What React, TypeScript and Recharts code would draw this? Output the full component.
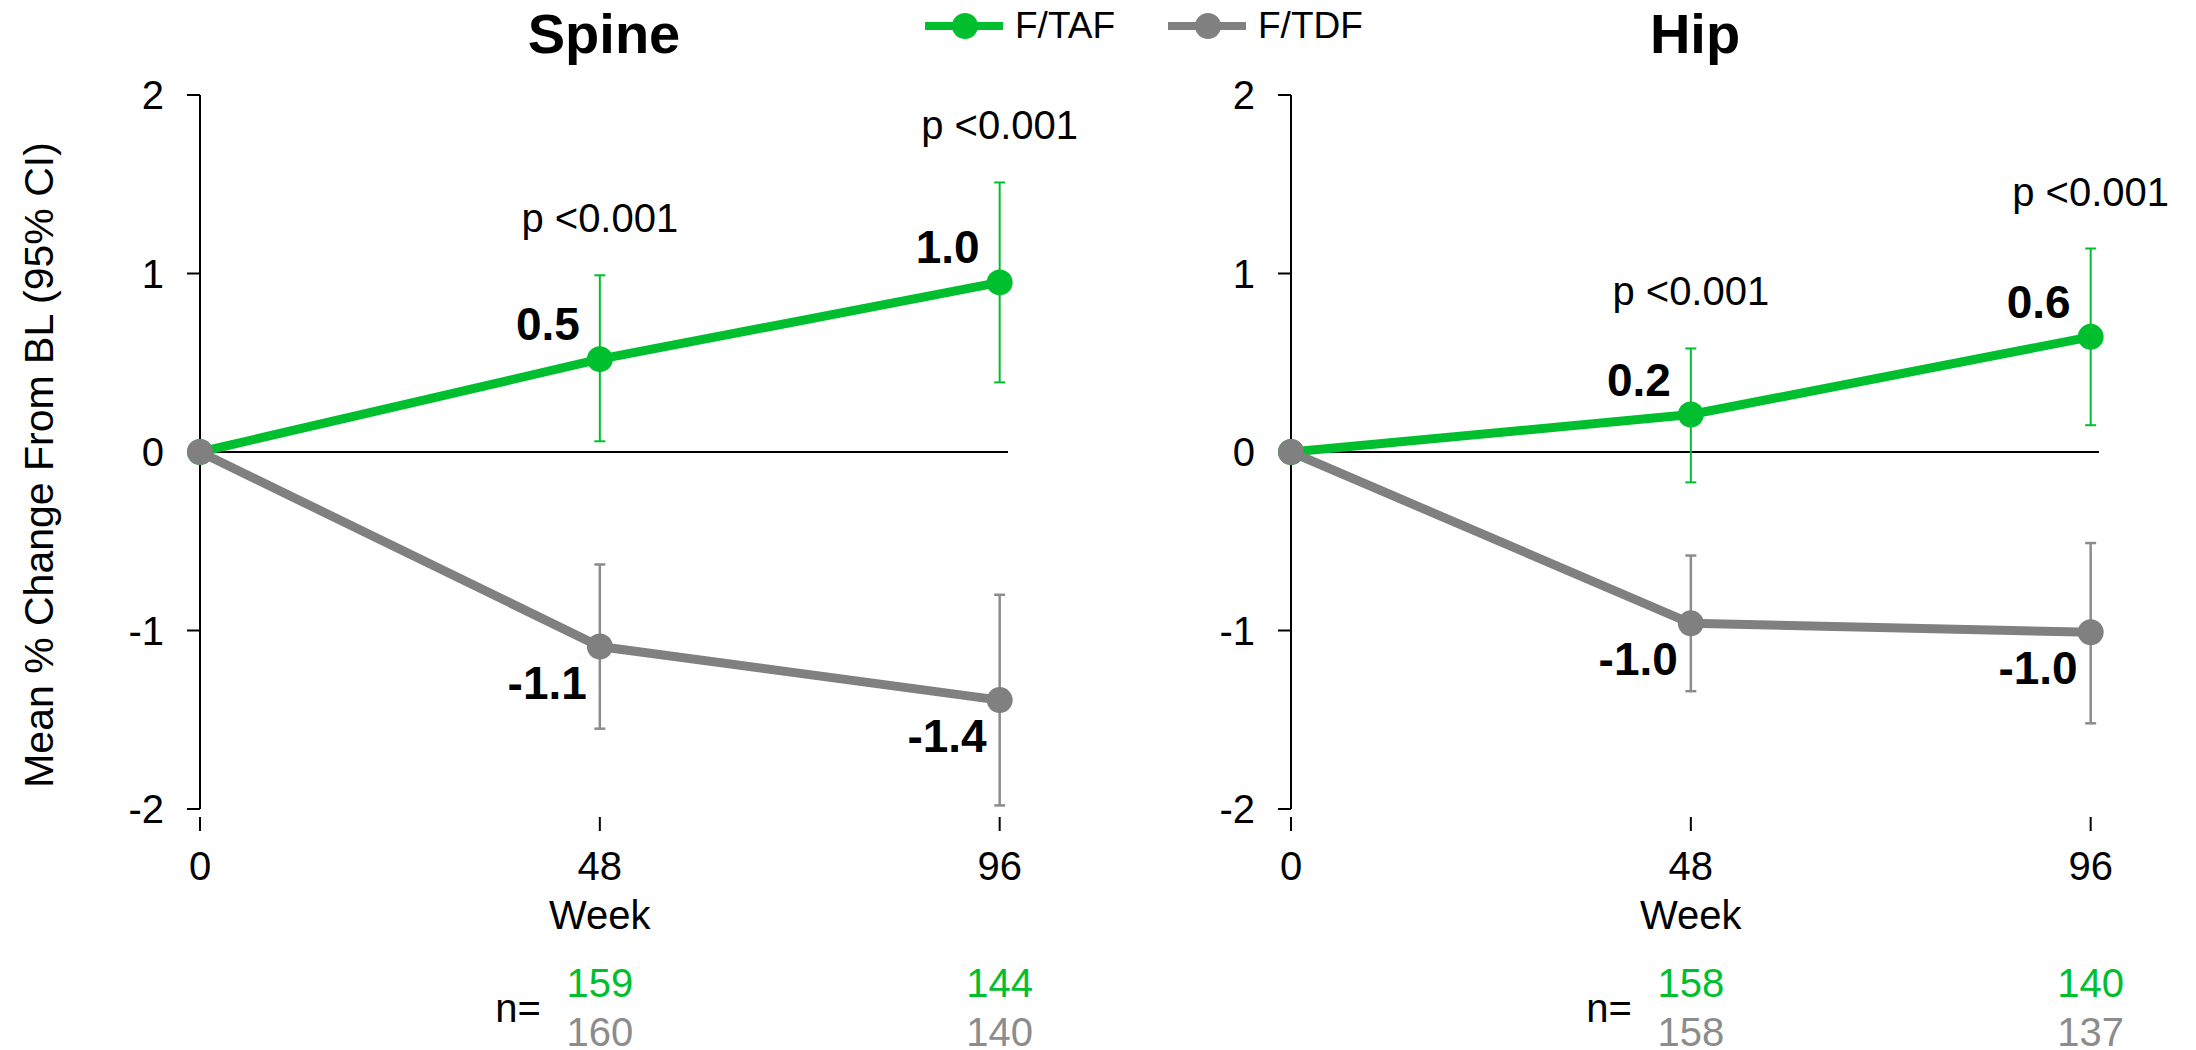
import { LineChart, Line, XAxis, YAxis, ErrorBar, LabelList, ReferenceLine, Legend, Label } from "recharts";

const FONT = "'Liberation Sans', Arial, sans-serif";
const GREEN = "#00BF2F";
const GREY = "#808080";
const GREY_BAR = "#8C8C8C";

const weeks = [0, 48, 96];
const xTicks = [0, 48, 96];
const yTicks = [-2, -1, 0, 1, 2];

// spine, mean % change and 95% CI
const spineTaf = [0, 0.52, 0.95];
const spineTafLow = [0, 0.06, 0.39];
const spineTafHigh = [0, 0.99, 1.51];
const spineTdf = [0, -1.09, -1.39];
const spineTdfLow = [0, -1.55, -1.98];
const spineTdfHigh = [0, -0.63, -0.8];

// hip
const hipTaf = [0, 0.21, 0.645];
const hipTafLow = [0, -0.17, 0.15];
const hipTafHigh = [0, 0.58, 1.14];
const hipTdf = [0, -0.96, -1.01];
const hipTdfLow = [0, -1.34, -1.52];
const hipTdfHigh = [0, -0.58, -0.51];

const spineTafText = ["", "0.5", "1.0"];
const spineTdfText = ["", "-1.1", "-1.4"];
const hipTafText = ["", "0.2", "0.6"];
const hipTdfText = ["", "-1.0", "-1.0"];
const pText = ["", "p <0.001", "p <0.001"];

const spineNTaf = ["", "159", "144"];
const spineNTdf = ["", "160", "140"];
const hipNTaf = ["", "158", "140"];
const hipNTdf = ["", "158", "137"];

const buildRows = (taf, tafLow, tafHigh, tdf, tdfLow, tdfHigh, tafText, tdfText) =>
	weeks.map((week, i) => ({
		week,
		taf: taf[i],
		tafErr: [taf[i] - tafLow[i], tafHigh[i] - taf[i]],
		tafHigh: tafHigh[i],
		tafText: tafText[i],
		tdf: tdf[i],
		tdfErr: [tdf[i] - tdfLow[i], tdfHigh[i] - tdf[i]],
		tdfText: tdfText[i],
		p: pText[i],
	}));

const spineRows = buildRows(spineTaf, spineTafLow, spineTafHigh, spineTdf, spineTdfLow, spineTdfHigh, spineTafText, spineTdfText);
const hipRows = buildRows(hipTaf, hipTafLow, hipTafHigh, hipTdf, hipTdfLow, hipTdfHigh, hipTafText, hipTdfText);

const pos = (props) => ({
	x: props.x ?? props.viewBox?.x ?? 0,
	y: props.y ?? props.viewBox?.y ?? 0,
});

const valueLabel = (dx, dy) => (props) => {
	if (!props.value) return null;
	const { x, y } = pos(props);
	return (
		<text x={x + dx} y={y + dy} textAnchor="end" fontFamily={FONT} fontWeight="bold" fontSize={46} fill="#000">
			{props.value}
		</text>
	);
};

const pLabel = (props) => {
	if (!props.value) return null;
	const { x, y } = pos(props);
	return (
		<text x={x} y={y - 43} textAnchor="middle" fontFamily={FONT} fontSize={40} fill="#000">
			{props.value}
		</text>
	);
};

const weekTick = (nTaf, nTdf) => (props) => {
	const { x, y, payload, index } = props;
	return (
		<g>
			<line x1={x} x2={x} y1={y + 8} y2={y + 22} stroke="#000" strokeWidth={2} />
			<text x={x} y={y + 71} textAnchor="middle" fontFamily={FONT} fontSize={40} fill="#000">
				{payload.value}
			</text>
			{index === 1 && (
				<text x={x - 59} y={y + 213} textAnchor="end" fontFamily={FONT} fontSize={40} fill="#000">
					n=
				</text>
			)}
			<text x={x} y={y + 188} textAnchor="middle" fontFamily={FONT} fontSize={40} fill={GREEN}>
				{nTaf[index]}
			</text>
			<text x={x} y={y + 237} textAnchor="middle" fontFamily={FONT} fontSize={40} fill={GREY_BAR}>
				{nTdf[index]}
			</text>
		</g>
	);
};

const LegendContent = ({ payload }) => (
	<svg width={480} height={60}>
		{(payload || []).map((entry, i) => (
			<g key={entry.value} transform={`translate(${i * 243}, 0)`}>
				<line x1={10} x2={88} y1={26} y2={26} stroke={entry.color} strokeWidth={8} />
				<circle cx={50} cy={26} r={13} fill={entry.color} />
				<text x={100} y={38} fontFamily={FONT} fontSize={37} fill="#000">
					{entry.value}
				</text>
			</g>
		))}
	</svg>
);

const Panel = ({ title, rows, nTaf, nTdf, left, chartWidth, marginLeft, marginRight, withLegend, withYLabel }) => (
	<div style={{ position: "absolute", left, top: 0, width: chartWidth, height: 1050 }}>
		<div
			style={{
				position: "absolute",
				left: marginLeft,
				width: chartWidth - marginLeft - marginRight,
				top: 6,
				textAlign: "center",
				fontFamily: FONT,
				fontWeight: "bold",
				fontSize: 56,
				lineHeight: 1,
				color: "#000",
			}}
		>
			{title}
		</div>
		<LineChart
			width={chartWidth}
			height={1050}
			data={rows}
			margin={{ top: 95, right: marginRight, bottom: 240, left: marginLeft - 1 }}
		>
			<XAxis
				dataKey="week"
				type="number"
				domain={[0, 97]}
				ticks={xTicks}
				interval={0}
				height={1}
				axisLine={false}
				tickLine={false}
				tickSize={0}
				tickMargin={0}
				tick={weekTick(nTaf, nTdf)}
			>
				<Label
					content={({ viewBox }) => (
						<text
							x={viewBox.x + (viewBox.width * 48) / 97}
							y={viewBox.y + 120}
							textAnchor="middle"
							fontFamily={FONT}
							fontSize={40}
							fill="#000"
						>
							Week
						</text>
					)}
				/>
			</XAxis>
			<YAxis
				type="number"
				domain={[-2, 2]}
				ticks={yTicks}
				interval={0}
				width={1}
				axisLine={{ stroke: "#000", strokeWidth: 2 }}
				tickLine={{ stroke: "#000", strokeWidth: 2 }}
				tickSize={13}
				tickMargin={23}
				tick={{ fill: "#000", fontSize: 40, fontFamily: FONT }}
			>
				{withYLabel && (
					<Label
						content={({ viewBox }) => {
							const cx = 53;
							const cy = viewBox.y + viewBox.height / 2 + 13;
							return (
								<text
									x={cx}
									y={cy}
									transform={`rotate(-90, ${cx}, ${cy})`}
									textAnchor="middle"
									fontFamily={FONT}
									fontSize={41}
									fill="#000"
								>
									Mean % Change From BL (95% CI)
								</text>
							);
						}}
					/>
				)}
			</YAxis>
			<ReferenceLine y={0} stroke="#000" strokeWidth={2} />
			{withLegend && (
				<Legend
					layout="horizontal"
					verticalAlign="middle"
					align="center"
					content={LegendContent}
					wrapperStyle={{ position: "absolute", left: 915, top: 0, width: 480, height: 60 }}
				/>
			)}
			<Line
				dataKey="tafHigh"
				stroke="none"
				dot={false}
				activeDot={false}
				legendType="none"
				isAnimationActive={false}
			>
				<LabelList dataKey="p" content={pLabel} />
			</Line>
			<Line
				name="F/TAF"
				dataKey="taf"
				stroke={GREEN}
				strokeWidth={9}
				dot={{ r: 13, fill: GREEN, stroke: "none" }}
				activeDot={false}
				isAnimationActive={false}
			>
				<ErrorBar dataKey="tafErr" direction="y" width={5.5} strokeWidth={2} stroke={GREEN} />
				<LabelList dataKey="tafText" content={valueLabel(-20, -19)} />
			</Line>
			<Line
				name="F/TDF"
				dataKey="tdf"
				stroke={GREY}
				strokeWidth={9}
				dot={{ r: 13, fill: GREY, stroke: "none" }}
				activeDot={false}
				isAnimationActive={false}
			>
				<ErrorBar dataKey="tdfErr" direction="y" width={5.5} strokeWidth={2.5} stroke={GREY_BAR} />
				<LabelList dataKey="tdfText" content={valueLabel(-13, 52)} />
			</Line>
		</LineChart>
	</div>
);

export default function App() {
	return (
		<div style={{ position: "absolute", left: 0, top: 0, width: 2196, height: 1050, background: "#fff" }}>
			<Panel
				title="Hip"
				rows={hipRows}
				nTaf={hipNTaf}
				nTdf={hipNTdf}
				left={1098}
				chartWidth={1098}
				marginLeft={193}
				marginRight={97}
			/>
			<Panel
				title="Spine"
				rows={spineRows}
				nTaf={spineNTaf}
				nTdf={spineNTdf}
				left={0}
				chartWidth={1400}
				marginLeft={200}
				marginRight={392}
				withLegend
				withYLabel
			/>
		</div>
	);
}
